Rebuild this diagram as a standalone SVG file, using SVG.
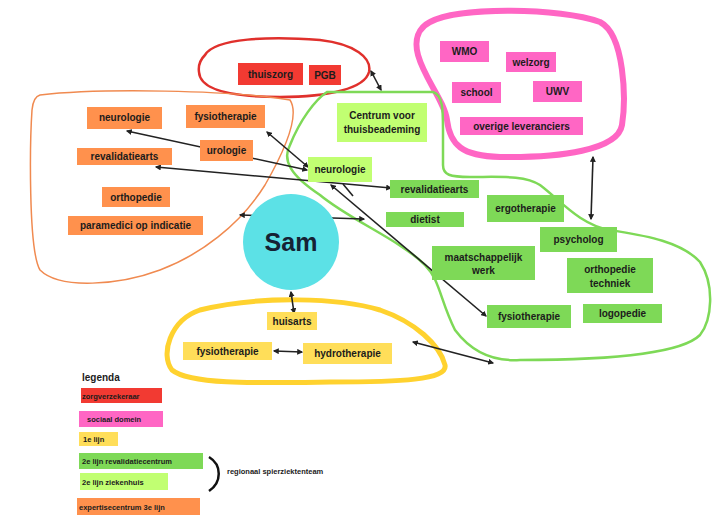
<svg xmlns="http://www.w3.org/2000/svg" width="724" height="516" viewBox="0 0 724 516">
<defs>
<style>
.t{font-family:"Liberation Sans",Arial,sans-serif;font-weight:bold;font-size:10px;fill:#1c1c1c;text-anchor:middle}
.lt{font-family:"Liberation Sans",Arial,sans-serif;font-weight:bold;font-size:7.5px;fill:#1c1c1c}
.red{fill:#f23a32}.pink{fill:#ff66c4}.org{fill:#ff914d}.grn{fill:#7ed957}.lg{fill:#c1ff72}.yel{fill:#ffde59}
.c{stroke:#222;stroke-width:1.6;fill:none;marker-start:url(#a);marker-end:url(#a)}
</style>
<marker id="a" viewBox="0 0 10 10" refX="8" refY="5" markerWidth="6" markerHeight="6" markerUnits="userSpaceOnUse" orient="auto-start-reverse">
<path d="M0,0 L10,5 L0,10 Z" fill="#222"/>
</marker>
</defs>
<rect width="724" height="516" fill="#fff"/>

<g id="regions" fill="none">
<path id="region-red" d="M205,55 C215,38 270,36 320,40 C355,44 372,58 369,72 C365,88 330,97 280,97 C230,97 200,90 199,72 C198,65 200,60 205,55 Z" stroke="#e0302c" stroke-width="2.5"/>
<path id="region-pink" d="M430,22 C460,6 560,8 600,22 C625,35 626,100 622,125 C618,150 560,158 500,157 C462,156 450,145 447,120 C444,100 425,80 418,55 C414,40 418,28 430,22 Z" stroke="#ff66c4" stroke-width="6"/>
<path id="region-orange" d="M40,95 C100,88 230,90 290,100 C300,115 285,150 265,185 C240,225 200,255 160,270 C120,285 60,290 40,270 C28,250 30,140 32,110 C33,100 36,96 40,95 Z" stroke="#f08a50" stroke-width="1.5"/>
<path id="region-green" d="M327,92 L433,92 C443,95 443,110 443,130 L443,165 C443,175 450,177 470,177 C500,177 525,175 540,185 C560,200 580,225 610,230 C640,235 680,240 700,262 C715,285 712,320 700,335 C680,355 600,360 520,360 C490,362 470,350 455,330 C440,300 440,280 425,265 C400,240 350,220 320,195 C290,175 282,160 290,145 C300,120 315,100 327,92 Z" stroke="#7ed957" stroke-width="2.5"/>
<path id="region-yellow" d="M200,310 C260,295 340,298 380,310 C415,322 440,345 445,365 C448,380 400,382 330,382 C260,383 190,385 172,370 C160,355 170,320 200,310 Z" stroke="#ffd22f" stroke-width="5"/>
</g>

<g id="connectors">
<line class="c" x1="371" y1="71" x2="381" y2="90"/>
<line class="c" x1="127" y1="131" x2="307" y2="170"/>
<line class="c" x1="267" y1="132" x2="308" y2="167"/>
<line class="c" x1="156" y1="167" x2="391" y2="188"/>
<line class="c" x1="240" y1="215" x2="364" y2="219"/>
<line class="c" x1="331" y1="185" x2="486" y2="316"/>
<line x1="343" y1="184" x2="353" y2="196" stroke="#222" stroke-width="1.6"/>
<line class="c" x1="593" y1="157" x2="591" y2="219"/>
<line class="c" x1="291" y1="292" x2="294" y2="313"/>
<line class="c" x1="274" y1="351" x2="302" y2="352"/>
<line class="c" x1="413" y1="342" x2="493" y2="363"/>
</g>

<g id="sam"><circle cx="291" cy="242" r="48" fill="#5ce1e6"/><text x="291" y="251" style="font-family:'Liberation Sans',Arial,sans-serif;font-weight:bold;font-size:25px;fill:#152234;text-anchor:middle">Sam</text></g>

<g id="thuiszorg"><rect class="red" x="238" y="63" width="65" height="22"/><text class="t" x="270.5" y="78">thuiszorg</text></g>
<g id="pgb"><rect class="red" x="309" y="65" width="32" height="20"/><text class="t" x="325" y="79">PGB</text></g>

<g id="wmo"><rect class="pink" x="440" y="41" width="49" height="21"/><text class="t" x="464.5" y="55">WMO</text></g>
<g id="welzorg"><rect class="pink" x="506" y="52" width="50" height="20"/><text class="t" x="531" y="66">welzorg</text></g>
<g id="school"><rect class="pink" x="452" y="82" width="49" height="21"/><text class="t" x="476.5" y="96">school</text></g>
<g id="uwv"><rect class="pink" x="533" y="81" width="49" height="21"/><text class="t" x="557.5" y="95">UWV</text></g>
<g id="overige-leveranciers"><rect class="pink" x="460" y="117" width="123" height="18"/><text class="t" x="521.5" y="130">overige leveranciers</text></g>

<g id="neurologie-3e"><rect class="org" x="87" y="107" width="75" height="22"/><text class="t" x="124.5" y="121">neurologie</text></g>
<g id="fysiotherapie-3e"><rect class="org" x="186" y="105" width="79" height="23"/><text class="t" x="225.5" y="120">fysiotherapie</text></g>
<g id="urologie"><rect class="org" x="200" y="140" width="53" height="21"/><text class="t" x="226.5" y="154">urologie</text></g>
<g id="revalidatiearts-3e"><rect class="org" x="77" y="148" width="95" height="17"/><text class="t" x="124.5" y="160">revalidatiearts</text></g>
<g id="orthopedie"><rect class="org" x="102" y="187" width="68" height="20"/><text class="t" x="136" y="201">orthopedie</text></g>
<g id="paramedici"><rect class="org" x="68" y="216" width="135" height="19"/><text class="t" x="135.5" y="229">paramedici op indicatie</text></g>

<g id="centrum-thuisbeademing"><rect class="lg" x="337" y="103" width="90" height="39"/><text class="t" x="382" y="119">Centrum voor</text><text class="t" x="382" y="133">thuisbeademing</text></g>
<g id="neurologie-2e"><rect class="lg" x="308" y="157" width="64" height="25"/><text class="t" x="340" y="173">neurologie</text></g>
<g id="revalidatiearts-2e"><rect class="grn" x="390" y="180" width="89" height="18"/><text class="t" x="434.5" y="193">revalidatiearts</text></g>
<g id="dietist"><rect class="grn" x="386" y="212" width="78" height="15"/><text class="t" x="425" y="223">dietist</text></g>
<g id="ergotherapie"><rect class="grn" x="487" y="195" width="77" height="27"/><text class="t" x="525.5" y="212">ergotherapie</text></g>
<g id="psycholog"><rect class="grn" x="540" y="227" width="77" height="25"/><text class="t" x="578.5" y="243">psycholog</text></g>
<g id="maatschappelijk-werk"><rect class="grn" x="432" y="246" width="103" height="34"/><text class="t" x="483.5" y="261">maatschappelijk</text><text class="t" x="483.5" y="274">werk</text></g>
<g id="orthopedie-techniek"><rect class="grn" x="567" y="258" width="86" height="35"/><text class="t" x="610" y="273">orthopedie</text><text class="t" x="610" y="287">techniek</text></g>
<g id="fysiotherapie-2e"><rect class="grn" x="487" y="305" width="84" height="23"/><text class="t" x="529" y="320">fysiotherapie</text></g>
<g id="logopedie"><rect class="grn" x="583" y="304" width="79" height="19"/><text class="t" x="622.5" y="317">logopedie</text></g>

<g id="huisarts"><rect class="yel" x="267" y="312" width="50" height="18"/><text class="t" x="292" y="325">huisarts</text></g>
<g id="fysiotherapie-1e"><rect class="yel" x="183" y="342" width="89" height="18"/><text class="t" x="227.5" y="355">fysiotherapie</text></g>
<g id="hydrotherapie"><rect class="yel" x="303" y="343" width="89" height="21"/><text class="t" x="347.5" y="357">hydrotherapie</text></g>

<g id="legenda">
<text x="82" y="381" style="font-family:'Liberation Sans',Arial,sans-serif;font-weight:bold;font-size:10px;fill:#1c1c1c">legenda</text>
<rect class="red" x="81" y="388" width="81" height="15"/><text class="lt" x="82" y="398.5">zorgverzekeraar</text>
<rect class="pink" x="79" y="411" width="84" height="16"/><text class="lt" x="87" y="422">sociaal domein</text>
<rect class="yel" x="79" y="432" width="39" height="14"/><text class="lt" x="83" y="442">1e lijn</text>
<rect class="grn" x="79" y="453" width="124" height="16"/><text class="lt" x="82" y="464">2e lijn revalidatiecentrum</text>
<rect class="lg" x="80" y="473" width="88" height="17"/><text class="lt" x="82" y="484.5">2e lijn ziekenhuis</text>
<rect class="org" x="77" y="498" width="123" height="17"/><text class="lt" x="79" y="509.5">expertisecentrum 3e lijn</text>
<path d="M209,457 C222,465 222,482 209,491" fill="none" stroke="#111" stroke-width="2.5"/>
<text class="lt" x="227" y="474">regionaal spierziektenteam</text>
</g>
</svg>
